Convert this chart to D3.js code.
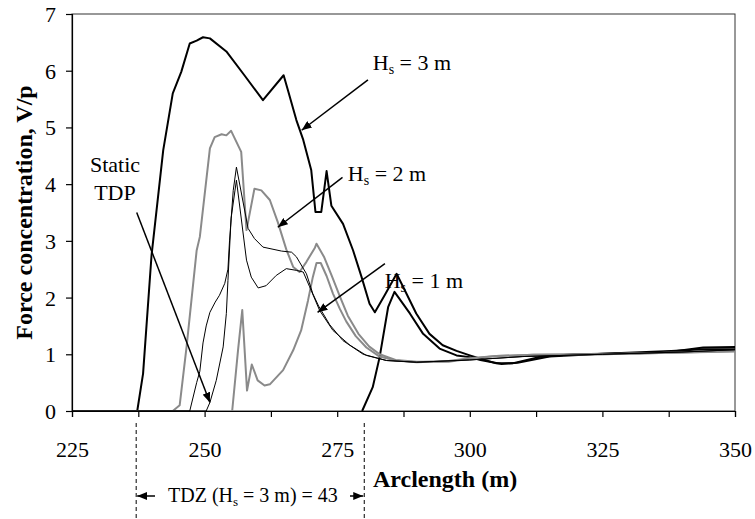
<!DOCTYPE html>
<html>
<head>
<meta charset="utf-8">
<script src="https://cdn.jsdelivr.net/npm/d3@7"></script>
<style>
body { margin: 0; background: #fff; }
svg { display: block; }
svg text { font-family: "Times New Roman", "Liberation Serif", "DejaVu Serif", serif; fill: #000; }
</style>
</head>
<body>
<svg id="chart"></svg>
<script>
// Hs = 3 m, upper envelope (thick black)
const hs3aX = [225, 237.3, 238.4, 240.0, 242.2, 244.0, 245.6, 247.2, 248.5, 249.7, 251.0, 254.1, 257.5, 261.0, 264.9, 265.7, 267.3, 268.6, 270.1, 270.9, 272.0, 273.0, 273.9, 276.1, 278.0, 279.6, 281.1, 282.1, 284.0, 286.2, 288.0, 289.9, 292.4, 294.9, 297.5, 300.0, 302.0, 305.0, 308.0, 313.0, 319.5, 325.8, 332.0, 338.3, 344.0, 350];
const hs3aY = [0, 0, 0.66, 2.75, 4.6, 5.6, 5.98, 6.48, 6.53, 6.59, 6.57, 6.34, 5.92, 5.48, 5.92, 5.66, 5.13, 4.78, 4.25, 3.51, 3.51, 4.23, 3.62, 3.3, 2.83, 2.36, 1.89, 1.74, 2.05, 2.42, 2.08, 1.72, 1.36, 1.16, 1.06, 0.98, 0.92, 0.84, 0.84, 0.95, 1.0, 1.01, 1.02, 1.05, 1.12, 1.13];
// Hs = 3 m, second curve (thick black)
const hs3bX = [279.7, 281.7, 283.0, 284.6, 285.8, 288.7, 291.2, 294.3, 297.5, 300, 302, 306, 309, 315, 325, 338, 344, 350];
const hs3bY = [0, 0.42, 0.95, 1.83, 2.1, 1.72, 1.36, 1.10, 0.98, 0.95, 0.9, 0.83, 0.85, 0.96, 1.01, 1.06, 1.09, 1.09];
// Hs = 2 m (grey)
const hs2aX = [225, 244.0, 245.3, 246.6, 248.5, 249.1, 251.0, 251.9, 253.2, 254.1, 255.0, 256.9, 257.9, 259.4, 260.7, 262.3, 263.8, 265.4, 266.7, 267.9, 269.2, 270.8, 271.1, 272.5, 274.0, 275.5, 277.0, 279.0, 281.0, 283.0, 286.0, 290.0, 296.0, 300, 305, 312, 325, 340, 350];
const hs2aY = [0, 0, 0.1, 1.13, 2.83, 3.07, 4.63, 4.83, 4.88, 4.86, 4.94, 4.57, 3.19, 3.92, 3.89, 3.72, 3.33, 2.85, 2.54, 2.45, 2.63, 2.88, 2.95, 2.72, 2.38, 2.02, 1.68, 1.36, 1.14, 1.0, 0.9, 0.87, 0.87, 0.92, 0.97, 0.99, 1.0, 1.03, 1.06];
const hs2bX = [255.2, 256.3, 257.1, 258.0, 258.9, 260.0, 261.3, 262.3, 264.8, 266.7, 268.2, 269.5, 270.4, 271.1, 271.9, 273.0, 274.2, 275.5, 276.7, 278.5, 280.5, 283.0, 286.0, 290.0, 296.0, 300, 305, 312, 325, 340, 350];
const hs2bY = [0, 1.07, 1.78, 0.36, 0.82, 0.54, 0.45, 0.47, 0.72, 1.07, 1.42, 1.95, 2.36, 2.61, 2.61, 2.38, 2.07, 1.8, 1.58, 1.32, 1.12, 0.96, 0.89, 0.86, 0.88, 0.93, 0.97, 0.99, 1.0, 1.03, 1.05];
// Hs = 1 m (thin black)
const hs1aX = [225, 247.2, 248.5, 249.1, 249.7, 250.3, 251.0, 252.0, 252.8, 253.8, 254.4, 254.7, 255.4, 256.0, 258.2, 259.4, 261.0, 264.5, 266.4, 267.3, 269.2, 270.4, 271.5, 273.6, 276.1, 279.9, 284.3, 290, 300, 310, 325, 340, 350];
const hs1aY = [0, 0, 0.5, 0.7, 1.2, 1.5, 1.74, 1.92, 2.04, 2.25, 2.5, 3.0, 3.89, 4.30, 3.22, 3.04, 2.89, 2.82, 2.80, 2.72, 2.42, 2.07, 1.85, 1.52, 1.24, 1.0, 0.89, 0.86, 0.9, 0.96, 1.0, 1.04, 1.08];
const hs1bX = [225, 250.3, 251.0, 252.2, 253.5, 254.1, 254.4, 255.0, 256.0, 257.9, 258.8, 260.1, 261.6, 263.5, 265.4, 267.3, 268.6, 269.8, 271.7, 274.2, 277.4, 280.5, 284.3, 290, 300, 310, 325, 340, 350];
const hs1bY = [0, 0, 0.15, 0.54, 1.13, 1.72, 2.3, 3.4, 4.07, 2.66, 2.36, 2.17, 2.21, 2.39, 2.51, 2.48, 2.45, 2.19, 1.77, 1.42, 1.16, 0.98, 0.89, 0.86, 0.9, 0.96, 1.0, 1.04, 1.08];

const xTicks = [225, 237.5, 250, 262.5, 275, 287.5, 300, 312.5, 325, 337.5, 350];
const yTicks = [0, 1, 2, 3, 4, 5, 6, 7];

const width = 755;
const height = 519;
const margin = { top: 14, left: 72, bottom: 108, right: 20 };
const innerWidth = width - margin.left - margin.right;
const innerHeight = height - margin.top - margin.bottom;

const svg = d3.select("#chart")
    .attr("width", width)
    .attr("height", height);

const defs = svg.append("defs");
defs.append("marker")
    .attr("id", "head")
    .attr("viewBox", "0 0 10 8")
    .attr("refX", 10)
    .attr("refY", 4)
    .attr("markerWidth", 10)
    .attr("markerHeight", 8)
    .attr("markerUnits", "userSpaceOnUse")
    .attr("orient", "auto")
    .append("path")
    .attr("d", "M0,0 L10,4 L0,8 Z")
    .attr("fill", "#000");

const x = d3.scaleLinear().domain([225, 350]).range([0, innerWidth]);
const y = d3.scaleLinear().domain([0, 7]).range([innerHeight, 0]);

const g = svg.append("g")
    .attr("transform", "translate(" + margin.left + "," + margin.top + ")");

// plot border
g.append("rect")
    .attr("x", 0).attr("y", 0)
    .attr("width", innerWidth).attr("height", innerHeight)
    .attr("fill", "none")
    .attr("stroke", "#333")
    .attr("stroke-width", 1);

const line = d3.line()
    .x(d => x(d[0]))
    .y(d => y(d[1]));

const series = [
    { xs: hs3aX, ys: hs3aY, color: "#000", w: 2 },
    { xs: hs3bX, ys: hs3bY, color: "#000", w: 2 },
    { xs: hs2aX, ys: hs2aY, color: "#8a8a8a", w: 2 },
    { xs: hs2bX, ys: hs2bY, color: "#8a8a8a", w: 2 },
    { xs: hs1aX, ys: hs1aY, color: "#000", w: 1 },
    { xs: hs1bX, ys: hs1bY, color: "#000", w: 1 }
];

g.selectAll("path.series")
    .data(series)
    .enter()
    .append("path")
    .attr("class", "series")
    .attr("d", s => line(s.xs.map((v, i) => [v, s.ys[i]])))
    .attr("fill", "none")
    .attr("stroke", s => s.color)
    .attr("stroke-width", s => s.w)
    .attr("stroke-linejoin", "round");

// axes
const xAxis = d3.axisBottom(x)
    .tickValues(xTicks)
    .tickSize(6)
    .tickFormat(d3.format("d"));

const xg = g.append("g")
    .attr("transform", "translate(0," + innerHeight + ")")
    .call(xAxis);
// labels only every 25 m, minor ticks keep no text
xg.selectAll(".tick text")
    .filter(d => d % 25 !== 0)
    .remove();
xg.selectAll("text")
    .attr("y", 46)
    .attr("dy", null)
    .attr("font-size", 22);

const yAxis = d3.axisLeft(y)
    .tickValues(yTicks)
    .tickSize(6)
    .tickPadding(10)
    .tickFormat(d3.format("d"));

const yg = g.append("g").call(yAxis);
yg.selectAll("text")
    .attr("font-size", 22)
    .attr("dy", "0.34em");

[xg, yg].forEach(a => {
    a.attr("font-family", null);
    a.select(".domain").attr("stroke", "#000").attr("stroke-width", 1.2);
    a.selectAll(".tick line").attr("stroke", "#000").attr("stroke-width", 1.2);
});

// axis titles
svg.append("text")
    .attr("x", 373)
    .attr("y", 487)
    .attr("font-size", 24)
    .attr("font-weight", "bold")
    .text("Arclength (m)");

svg.append("text")
    .attr("transform", "translate(32," + (margin.top + innerHeight / 2) + ") rotate(-90)")
    .attr("text-anchor", "middle")
    .attr("font-size", 24)
    .attr("font-weight", "bold")
    .text("Force concentration, V/p");

// Hs labels with arrows (data coordinates)
const labels = [
    { num: "3", tx: 281.7, ty: 6.01, ax1: 280.8, ay1: 5.84, ax2: 268.3, ay2: 4.95 },
    { num: "2", tx: 277.0, ty: 4.05, ax1: 276.0, ay1: 4.12, ax2: 263.8, ay2: 3.24 },
    { num: "1", tx: 283.95, ty: 2.16, ax1: 284.0, ay1: 2.60, ax2: 271.3, ay2: 1.74 }
];

labels.forEach(l => {
    const t = g.append("text")
        .attr("x", x(l.tx))
        .attr("y", y(l.ty))
        .attr("font-size", 22);
    t.append("tspan").text("H");
    t.append("tspan").attr("font-size", 14).attr("dy", 4).text("s");
    t.append("tspan").attr("dy", -4).text(" = " + l.num + " m");
    g.append("line")
        .attr("x1", x(l.ax1)).attr("y1", y(l.ay1))
        .attr("x2", x(l.ax2)).attr("y2", y(l.ay2))
        .attr("stroke", "#000")
        .attr("stroke-width", 1.5)
        .attr("marker-end", "url(#head)");
});

// Static TDP
g.append("text")
    .attr("x", x(233.1)).attr("y", y(4.21))
    .attr("text-anchor", "middle")
    .attr("font-size", 22)
    .text("Static");
g.append("text")
    .attr("x", x(233.1)).attr("y", y(3.72))
    .attr("text-anchor", "middle")
    .attr("font-size", 22)
    .text("TDP");
g.append("line")
    .attr("x1", x(237.2)).attr("y1", y(3.50))
    .attr("x2", x(251.0)).attr("y2", y(0.15))
    .attr("stroke", "#000")
    .attr("stroke-width", 1.5)
    .attr("marker-end", "url(#head)");

// TDZ span
const tdzStart = 237.1;
const tdzEnd = 280.1;
const tdzY = 496;

[tdzStart, tdzEnd].forEach(v => {
    svg.append("line")
        .attr("x1", margin.left + x(v)).attr("x2", margin.left + x(v))
        .attr("y1", 423).attr("y2", height)
        .attr("stroke", "#000")
        .attr("stroke-width", 1)
        .attr("stroke-dasharray", "4,3");
});

svg.append("line")
    .attr("x1", 155).attr("y1", tdzY)
    .attr("x2", margin.left + x(tdzStart) + 1).attr("y2", tdzY)
    .attr("stroke", "#000").attr("stroke-width", 1.5)
    .attr("marker-end", "url(#head)");
svg.append("line")
    .attr("x1", 350).attr("y1", tdzY)
    .attr("x2", margin.left + x(tdzEnd) - 1).attr("y2", tdzY)
    .attr("stroke", "#000").attr("stroke-width", 1.5)
    .attr("marker-end", "url(#head)");

const tdz = svg.append("text")
    .attr("x", 168)
    .attr("y", 502)
    .attr("font-size", 20);
tdz.append("tspan").text("TDZ (H");
tdz.append("tspan").attr("font-size", 13).attr("dy", 4).text("s");
tdz.append("tspan").attr("dy", -4).text(" = 3 m) = 43");
</script>
</body>
</html>
